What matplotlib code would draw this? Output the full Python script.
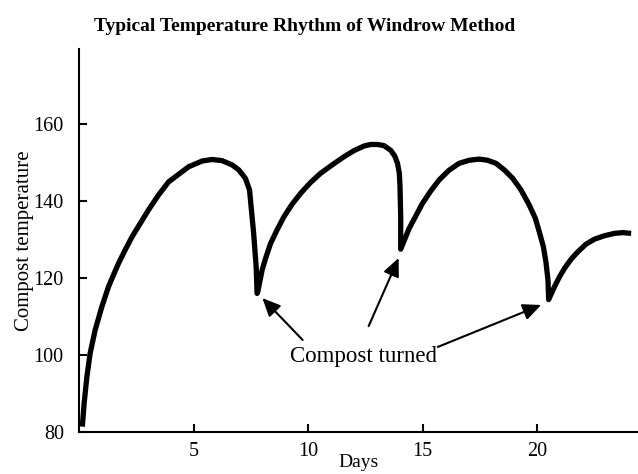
import matplotlib.pyplot as plt

days = [0.14, 0.22, 0.34, 0.48, 0.70, 0.99, 1.28, 1.50, 1.72, 2.01, 2.31, 2.67,
        3.03, 3.47, 3.91, 4.20, 4.78, 5.37, 5.80, 6.24, 6.68, 6.97, 7.26, 7.44,
        7.62, 7.73, 7.77,
        7.80, 7.99, 8.14, 8.36, 8.65, 8.94, 9.30, 9.67, 10.10, 10.54, 11.05, 11.56,
        12.00, 12.44, 12.73, 13.02, 13.31, 13.60, 13.78, 13.90, 13.98, 14.01,
        14.04, 14.04,
        14.41, 14.99, 15.35, 15.72, 16.15, 16.59, 17.03, 17.47, 17.83, 18.20,
        18.56, 18.93, 19.29, 19.65, 19.92, 20.09, 20.27, 20.38, 20.47, 20.50,
        20.75, 20.97, 21.19, 21.48, 21.77, 22.13, 22.50, 22.94, 23.37, 23.74, 24.10]
temp = [81.4, 87.5, 94.4, 100.4, 106.5, 112.5, 117.7, 120.8, 123.8, 127.3, 130.7, 134.2,
        137.7, 141.6, 145.0, 146.3, 148.9, 150.4, 150.8, 150.5, 149.4, 148.1, 145.9, 142.9,
        131.6, 122.9, 116.0,
        116.4, 122.1, 125.1, 129.0, 132.6, 135.9, 139.2, 142.0, 144.8, 147.2, 149.4, 151.5,
        153.1, 154.3, 154.7, 154.7, 154.4, 153.2, 151.7, 149.8, 147.2, 143.7,
        135.9, 127.5,
        132.9, 139.4, 142.6, 145.5, 148.0, 149.8, 150.6, 150.9, 150.6, 149.8,
        148.1, 145.9, 142.9, 139.0, 135.5, 132.0, 128.1, 124.2, 119.5, 114.4,
        117.7, 120.3, 122.5, 124.9, 126.8, 128.8, 130.1, 131.0, 131.6, 131.8, 131.6]

# days the pile was turned, and where each pointer tip lands
turn_days = [8.0, 13.95, 20.17]
turn_temps = [114.8, 125.2, 113.0]
tail_days = [9.76, 12.64, 15.66]
tail_temps = [103.9, 107.5, 102.1]

xticks = [5, 10, 15, 20]
yticks = [80, 100, 120, 140, 160]

serif = ['Liberation Serif', 'DejaVu Serif']

fig = plt.figure(figsize=(6.38, 4.74), dpi=100)
ax = fig.add_axes([0.124, 0.0886, 0.876, 0.808])

ax.plot(days, temp, color='black', lw=3.8, solid_capstyle='butt',
        solid_joinstyle='round')

for xt, yt, xs, ys in zip(turn_days, turn_temps, tail_days, tail_temps):
    ax.annotate('', xy=(xt, yt), xytext=(xs, ys),
                arrowprops=dict(arrowstyle='-|>,head_length=0.55,head_width=0.25',
                                color='black', lw=1.5, mutation_scale=20,
                                shrinkA=0, shrinkB=0))

ax.text(12.42, 99.5, 'Compost turned', ha='center', va='center',
        fontsize=16.5, family=serif)

ax.set_xlim(0, 24.4)
ax.set_ylim(80, 179.5)
ax.set_xticks(xticks)
ax.set_yticks(yticks)
ax.tick_params(direction='in', length=6, width=1.5, labelsize=14.5, pad=7)
ax.tick_params(axis='y', pad=11)
for lab in ax.get_xticklabels() + ax.get_yticklabels():
    lab.set_family(serif)

for side in ['top', 'right']:
    ax.spines[side].set_visible(False)
for side in ['left', 'bottom']:
    ax.spines[side].set_linewidth(1.5)

ax.set_xlabel('Days', fontsize=14, family=serif, labelpad=-5)
ax.set_ylabel('Compost temperature', fontsize=15, family=serif, labelpad=0)

fig.text(0.477, 0.9346, 'Typical Temperature Rhythm of Windrow Method',
         ha='center', va='baseline', fontsize=14, fontweight='bold', family=serif)

fig.savefig('out.png', dpi=100)
